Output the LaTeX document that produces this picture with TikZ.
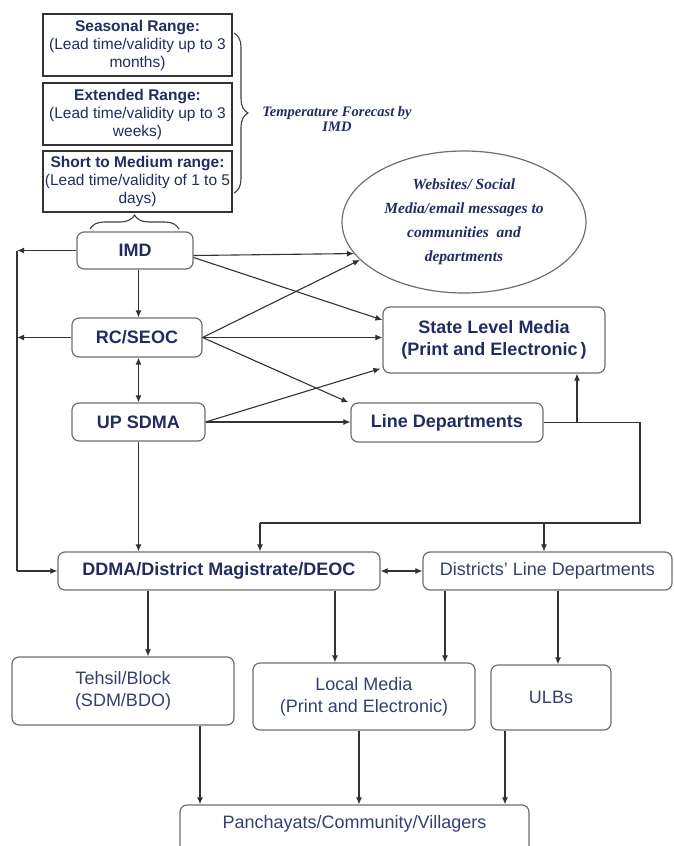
\documentclass[tikz,border=0pt]{standalone}
\usepackage{fontspec}
\setmainfont{Liberation Sans}
\newfontfamily\tnr{Liberation Serif}
\usetikzlibrary{arrows.meta,shapes.geometric,decorations.pathreplacing,calc}
\definecolor{navy}{RGB}{33,44,96}
\definecolor{navyl}{RGB}{52,64,112}
\definecolor{boxgray}{RGB}{110,110,110}
\definecolor{linegray}{RGB}{50,50,50}
\begin{document}
\begin{tikzpicture}[x=1pt,y=-1pt,
  fc/.style={draw=black!80,line width=1.1pt,inner sep=0pt,align=center,text=navy,font=\fontsize{15.5}{18}\selectfont},
  rb/.style={draw=boxgray,line width=1.2pt,rounded corners=7pt,inner sep=0pt,align=center,text=navy,font=\fontsize{18}{22}\selectfont\bfseries},
  rl/.style={draw=boxgray,line width=1.2pt,rounded corners=7pt,inner sep=0pt,align=center,text=navyl,font=\fontsize{18}{22}\selectfont},
  arr/.style={draw=linegray,line width=1.1pt,-{Latex[length=7pt,width=6pt]}},
  darr/.style={draw=linegray,line width=1.1pt,{Latex[length=7pt,width=6pt]}-{Latex[length=7pt,width=6pt]}},
  ln/.style={draw=linegray,line width=1.1pt},
  brc/.style={draw=black!75,line width=1.1pt,decorate,decoration={brace,amplitude=14pt}},
  it/.style={align=center,text=navy,inner sep=0pt}
]
\useasboundingbox (0,0) rectangle (674,846);

% forecast boxes
\node[fc,minimum width=189pt,minimum height=62pt] (seas) at (137.5,45) {\textbf{Seasonal Range:}\\(Lead time/validity up to 3\\months)};
\node[fc,minimum width=189pt,minimum height=62pt] (ext) at (137.5,114) {\textbf{Extended Range:}\\(Lead time/validity up to 3\\weeks)};
\node[fc,minimum width=189pt,minimum height=61pt] (smr) at (137.5,181.5) {\textbf{Short to Medium range:}\\(Lead time/validity of 1 to 5\\days)};

\coordinate (b1) at (234,33);
\coordinate (b2) at (234,193);
\draw[brc] (b1) -- (b2);
\node[it,font=\tnr\bfseries\itshape\fontsize{14.5}{15.5}\selectfont] (temp) at (337,119) {Temperature Forecast by\\IMD};

\coordinate (b3) at (90,229);
\coordinate (b4) at (179,229);
\draw[brc] (b3) -- (b4);

% main nodes
\node[rb,minimum width=116pt,minimum height=37pt] (imd) at (135,250.5) {IMD};
\node[rb,minimum width=130pt,minimum height=39pt] (rc) at (137,337.5) {RC/SEOC};
\node[rb,minimum width=133pt,minimum height=38pt] (up) at (138.5,422) {UP SDMA};
\node[ellipse,draw=boxgray,line width=1.2pt,minimum width=244pt,minimum height=142pt,inner sep=0pt,align=center,text=navy,font=\tnr\bfseries\itshape\fontsize{15.5}{24}\selectfont] (ell) at (464,222) {Websites/ Social\\Media/email messages to\\communities~ and\\departments};
\node[rb,minimum width=222pt,minimum height=66pt] (slm) at (494,340) {State Level Media\\(Print and Electronic\,)};
\node[rb,minimum width=192pt,minimum height=39pt] (ld) at (447,422.5) {Line Departments};
\node[rb,minimum width=322pt,minimum height=38pt] (ddma) at (219,571) {DDMA/District Magistrate/DEOC};
\node[rl,minimum width=249pt,minimum height=38pt] (dld) at (547.5,571) {Districts' Line Departments};
\node[rl,minimum width=222pt,minimum height=68pt] (teh) at (123,691) {Tehsil/Block\\(SDM/BDO)};
\node[rl,minimum width=222pt,minimum height=67pt] (lm) at (364,696.5) {Local Media\\(Print and Electronic)};
\node[rl,minimum width=120pt,minimum height=65pt] (ulb) at (551,697.5) {ULBs};
\node[rl,minimum width=349pt,minimum height=50pt] (pan) at (354.5,830) {};
\node[text=navyl,font=\fontsize{18}{22}\selectfont,inner sep=0pt] (pant) at (354.5,824) {Panchayats/Community/Villagers};

% helper coordinates
\coordinate (lft) at (17,0);
\coordinate (c1) at (640,523);
\coordinate (h1) at (260,523);
\coordinate (h2) at (544,523);
\coordinate (u1) at (577,0);
\coordinate (x1) at (148,0);
\coordinate (x2) at (335,0);
\coordinate (x3) at (445,0);
\coordinate (x4) at (558,0);
\coordinate (x5) at (200,0);
\coordinate (x6) at (359,0);
\coordinate (x7) at (505,0);

% connectors top
\draw[arr] ($(imd.east)+(0,5)$) -- (ell.196);
\draw[arr] ($(imd.east)+(0,7)$) -- ($(slm.west)+(0,-20)$);
\draw[arr] (imd.south -| up.south) -- (rc.north -| up.south);
\draw[arr] (imd.west) -- (imd.west -| lft);
\draw[arr] (rc.west) -- (rc.west -| lft);
\draw[ln] (imd.west -| lft) -- (ddma.west -| lft);
\draw[arr] (ddma.west -| lft) -- (ddma.west);
\draw[darr] (rc.south -| up.south) -- (up.north);
\draw[arr] (rc.east) -- (ell.200);
\draw[arr] (rc.east) -- (rc.east -| slm.west);
\draw[arr] (rc.east) -- ($(ld.north west)+(-2,0)$);
\draw[arr] (up.east) -- ($(slm.south west)+(-2,-5)$);
\draw[arr] (up.east) -- (up.east -| ld.west);
\draw[arr] (up.south) -- (up.south |- ddma.north);

% line departments loop
\draw[ln] (ld.east) -- (ld.east -| c1) -- (c1) -- (h1);
\draw[arr] (h1) -- (h1 |- ddma.north);
\draw[arr] (h2) -- (h2 |- dld.north);
\draw[arr] (ld.east -| u1) -- (u1 |- slm.south);
\draw[darr] (ddma.east) -- (dld.west);

% lower
\draw[arr] (ddma.south -| x1) -- (x1 |- teh.north);
\draw[arr] (ddma.south -| x2) -- (x2 |- lm.north);
\draw[arr] (dld.south -| x3) -- (x3 |- lm.north);
\draw[arr] (dld.south -| x4) -- (x4 |- ulb.north);
\draw[arr] (teh.south -| x5) -- (x5 |- pan.north);
\draw[arr] (lm.south -| x6) -- (x6 |- pan.north);
\draw[arr] (ulb.south -| x7) -- (x7 |- pan.north);
\end{tikzpicture}
\end{document}
